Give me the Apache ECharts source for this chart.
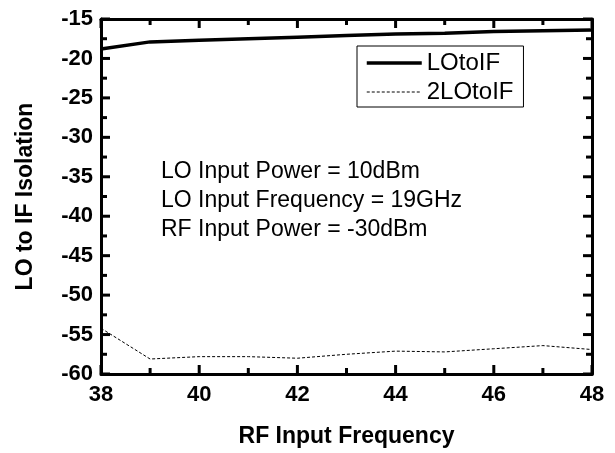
<!DOCTYPE html>
<html>
<head>
<meta charset="utf-8">
<script src="https://cdn.jsdelivr.net/npm/echarts@6/dist/echarts.min.js"></script>
<style>
html,body{margin:0;padding:0;background:#fff;}
#chart{width:615px;height:453px;}
</style>
</head>
<body>
<div id="chart"></div>
<script>
const frequencies = [38, 39, 40, 41, 42, 43, 44, 45, 46, 47, 48];
const loToIF = [-18.8, -17.9, -17.7, -17.5, -17.3, -17.1, -16.9, -16.8, -16.6, -16.5, -16.4];
const twoLoToIF = [-54.2, -58.1, -57.8, -57.8, -58.0, -57.5, -57.1, -57.2, -56.8, -56.4, -56.9];
const seriesNames = ['LOtoIF', '2LOtoIF'];
const annotations = ['LO Input Power = 10dBm', 'LO Input Frequency = 19GHz', 'RF Input Power = -30dBm'];
const xTitle = 'RF Input Frequency';
const yTitle = 'LO to IF Isolation';
const xMajorTicks = [38, 40, 42, 44, 46, 48];
const xMinorTicks = [39, 41, 43, 45, 47];
const yMajorTicks = [-60, -55, -50, -45, -40, -35, -30, -25, -20, -15];
const yMinorTicks = [-57.5, -52.5, -47.5, -42.5, -37.5, -32.5, -27.5, -22.5, -17.5];
const X_MIN = 38, X_MAX = 48, Y_MIN = -60, Y_MAX = -15;

const FONT = "'Liberation Sans', Arial, sans-serif";
const MAJOR_LEN = 9, MINOR_LEN = 6, TICK_W = 3;
const chart = echarts.init(document.getElementById('chart'), null, {renderer: 'canvas'});

const pairs = (ys) => frequencies.map((x, i) => [x, ys[i]]);

const tickSpecs = []
  .concat(xMajorTicks.map(v => ({axis: 'x', v: v, len: MAJOR_LEN})))
  .concat(xMinorTicks.map(v => ({axis: 'x', v: v, len: MINOR_LEN})))
  .concat(yMajorTicks.map(v => ({axis: 'y', v: v, len: MAJOR_LEN})))
  .concat(yMinorTicks.map(v => ({axis: 'y', v: v, len: MINOR_LEN})));

function renderTick(params, api) {
  const s = tickSpecs[params.dataIndex];
  const h = TICK_W / 2;
  let r1, r2;
  if (s.axis === 'x') {
    const a = api.coord([s.v, Y_MIN]);
    const b = api.coord([s.v, Y_MAX]);
    r1 = {x: a[0] - h, y: a[1] - s.len, width: TICK_W, height: s.len};
    r2 = {x: b[0] - h, y: b[1], width: TICK_W, height: s.len};
  } else {
    const a = api.coord([X_MIN, s.v]);
    const b = api.coord([X_MAX, s.v]);
    r1 = {x: a[0], y: a[1] - h, width: s.len, height: TICK_W};
    r2 = {x: b[0] - s.len, y: b[1] - h, width: s.len, height: TICK_W};
  }
  return {
    type: 'group',
    children: [
      {type: 'rect', shape: r1, style: {fill: '#000'}},
      {type: 'rect', shape: r2, style: {fill: '#000'}}
    ]
  };
}

const mkLine = () => ({show: true, onZero: false, lineStyle: {color: '#000', width: 3}});
const X_MID = (X_MIN + X_MAX) / 2, Y_MID = (Y_MIN + Y_MAX) / 2;

chart.setOption({
  backgroundColor: '#fff',
  animation: false,
  grid: {left: 101, right: 23, top: 19, bottom: 77, containLabel: false},
  xAxis: [
    {
      type: 'value', position: 'bottom', min: X_MIN, max: X_MAX, interval: 2,
      axisLine: mkLine(),
      axisTick: {show: false}, minorTick: {show: false}, splitLine: {show: false},
      name: xTitle, nameLocation: 'middle', nameGap: 51,
      nameTextStyle: {fontFamily: FONT, fontWeight: 'bold', fontSize: 23, color: '#000'},
      axisLabel: {fontFamily: FONT, fontWeight: 'bold', fontSize: 22, color: '#000', margin: 10}
    },
    {
      type: 'value', position: 'top', min: X_MIN, max: X_MAX, interval: 2,
      axisLine: mkLine(),
      axisTick: {show: false}, splitLine: {show: false},
      axisLabel: {show: false}
    }
  ],
  yAxis: [
    {
      type: 'value', position: 'left', min: Y_MIN, max: Y_MAX, interval: 5,
      axisLine: mkLine(),
      axisTick: {show: false}, minorTick: {show: false}, splitLine: {show: false},
      name: yTitle, nameLocation: 'middle', nameGap: 64, nameRotate: 90,
      nameTextStyle: {fontFamily: FONT, fontWeight: 'bold', fontSize: 23, color: '#000'},
      axisLabel: {fontFamily: FONT, fontWeight: 'bold', fontSize: 22, color: '#000', margin: 8}
    },
    {
      type: 'value', position: 'right', min: Y_MIN, max: Y_MAX, interval: 5,
      axisLine: mkLine(),
      axisTick: {show: false}, splitLine: {show: false},
      axisLabel: {show: false}
    }
  ],
  legend: {
    orient: 'vertical',
    left: 357, top: 46,
    padding: [4, 10, 2, 8],
    itemWidth: 55, itemHeight: 26, itemGap: 3,
    borderColor: '#000', borderWidth: 1,
    backgroundColor: '#fff',
    itemStyle: {opacity: 0},
    textStyle: {fontFamily: FONT, fontSize: 24, color: '#000', lineHeight: 26},
    data: [
      {name: seriesNames[0], lineStyle: {width: 3.5, color: '#000'}},
      {name: seriesNames[1], lineStyle: {width: 1, color: '#000', type: [3, 2]}}
    ]
  },
  graphic: annotations.map((t, i) => ({
    type: 'text', left: 161, top: 173 + i * 29 - 13,
    style: {text: t, font: '23px ' + FONT, fill: '#000'}
  })),
  series: [
    {
      name: seriesNames[0], type: 'line', data: pairs(loToIF), symbol: 'none',
      lineStyle: {color: '#000', width: 3.5}, itemStyle: {color: '#000'}, z: 3
    },
    {
      name: seriesNames[1], type: 'line', data: pairs(twoLoToIF), symbol: 'none',
      lineStyle: {color: '#000', width: 1, type: [3, 2]}, itemStyle: {color: '#000'}, z: 3
    },
    {
      name: 'ticks', type: 'custom', clip: false, silent: true, z: 5,
      xAxisIndex: 0, yAxisIndex: 0,
      data: tickSpecs.map(s => [s.axis === 'x' ? s.v : X_MID, s.axis === 'y' ? s.v : Y_MID]),
      renderItem: renderTick
    }
  ]
});
</script>
</body>
</html>
